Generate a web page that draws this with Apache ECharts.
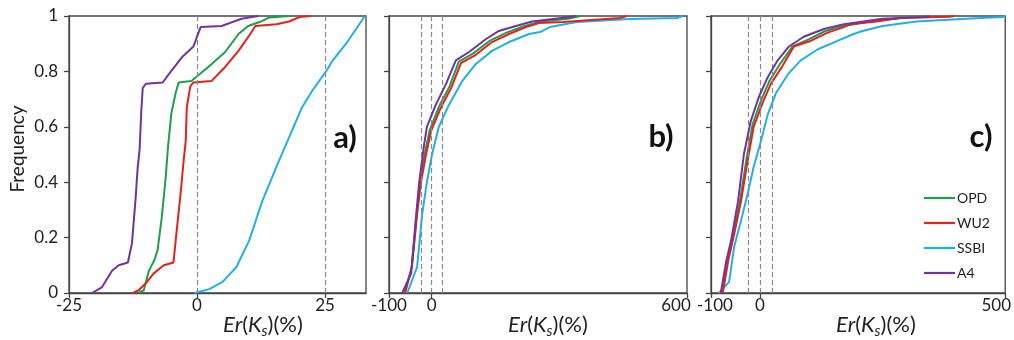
<!DOCTYPE html>
<html><head><meta charset="utf-8">
<script src="https://cdn.jsdelivr.net/npm/echarts@6/dist/echarts.min.js"></script>
<style>html,body{margin:0;padding:0;background:#fff}#c{width:1014px;height:340px}</style>
</head><body><div id="c"></div>
<script>
// ---------- data ----------
const seriesNames = ['OPD', 'WU2', 'SSBI', 'A4'];
const panelLabels = ['a)', 'b)', 'c)'];
const xTicksA = [-25, 0, 25];
const xTicksB = [-100, 0, 600];
const xTicksC = [-100, 0, 500];
const dashA = [0, 25];
const dashB = [-25, 0, 25];
const dashC = [-25, 0, 25];

// panel a
const a_OPD = [[-11.5,0],[-10.4,0.01],[-9.4,0.08],[-8.3,0.12],[-7.7,0.155],[-6.9,0.27],[-6.1,0.42],[-5.7,0.52],[-5.0,0.65],[-4.2,0.72],[-3.6,0.76],[-1.1,0.765],[2.2,0.816],[5.5,0.87],[8.1,0.935],[10,0.964],[12.5,0.98],[14.1,0.995],[18,1]];
const a_WU2 = [[-12.5,0],[-11.4,0.01],[-10.0,0.035],[-8.5,0.07],[-6.5,0.10],[-4.6,0.11],[-4.0,0.22],[-3.2,0.36],[-2.6,0.48],[-2.2,0.55],[-2.0,0.67],[-1.3,0.747],[-0.7,0.76],[2.8,0.765],[5.5,0.816],[8.1,0.874],[10.4,0.935],[11.4,0.964],[15.5,0.97],[18,0.98],[20,0.996],[22.3,1]];
const a_SSBI = [[-0.5,0],[2.4,0.014],[5.0,0.04],[7.7,0.094],[10.2,0.19],[12.7,0.33],[15.5,0.455],[18.0,0.563],[20.5,0.67],[22.5,0.73],[25.2,0.80],[26.4,0.837],[29.1,0.90],[32.8,1]];
const a_A4 = [[-20.5,0],[-18.6,0.02],[-16.6,0.08],[-15.3,0.10],[-13.5,0.11],[-12.7,0.18],[-12.0,0.34],[-11.6,0.45],[-11.2,0.52],[-10.9,0.65],[-10.6,0.74],[-10.0,0.755],[-6.7,0.76],[-5.5,0.79],[-3.0,0.85],[-0.7,0.89],[-0.1,0.92],[0.7,0.96],[4.8,0.964],[8.7,0.99],[11,0.997],[12,1]];

// panel b
const b_OPD = [[-64,0],[-47,0.09],[-35,0.285],[-27,0.40],[-15,0.51],[-4,0.59],[18,0.675],[42,0.745],[64,0.835],[98,0.865],[136,0.91],[176,0.94],[215,0.962],[250,0.978],[320,0.99],[350,1]];
const b_WU2 = [[-62,0],[-46,0.097],[-34,0.285],[-25,0.40],[-13,0.50],[-1,0.585],[22,0.67],[46,0.74],[69,0.83],[104,0.86],[142,0.906],[182,0.935],[222,0.96],[252,0.975],[309,0.978],[443,0.993],[459,1]];
const b_SSBI = [[-57,0],[-34,0.094],[-22,0.285],[-11,0.40],[1,0.50],[17,0.60],[41,0.68],[72,0.765],[104,0.827],[142,0.874],[182,0.906],[229,0.935],[255,0.942],[278,0.96],[341,0.978],[466,0.989],[577,0.993],[590,1]];
const b_A4 = [[-69,0],[-48,0.07],[-36,0.285],[-29,0.40],[-18,0.53],[-11,0.60],[10,0.68],[34,0.755],[57,0.84],[88,0.87],[128,0.917],[158,0.946],[198,0.964],[236,0.98],[325,0.996],[340,1]];

// panel c
const c_OPD = [[-78,0],[-66,0.12],[-55,0.21],[-41,0.33],[-27,0.49],[-15,0.61],[3,0.70],[19,0.765],[42,0.83],[66,0.89],[98,0.915],[132,0.945],[165,0.962],[230,0.982],[300,0.995],[345,1]];
const c_WU2 = [[-76,0],[-65,0.115],[-53,0.21],[-39,0.33],[-25,0.48],[-13,0.60],[6,0.69],[22,0.755],[46,0.82],[69,0.89],[103,0.91],[138,0.94],[171,0.96],[183,0.97],[238,0.98],[284,0.993],[386,0.997],[396,1]];
const c_SSBI = [[-84,0],[-63,0.04],[-53,0.165],[-39,0.26],[-25,0.36],[-13,0.455],[2,0.55],[16,0.646],[32,0.72],[57,0.79],[83,0.84],[118,0.88],[158,0.91],[191,0.935],[209,0.946],[250,0.964],[319,0.98],[421,0.99],[494,0.996],[500,1]];
const c_A4 = [[-80,0],[-69,0.115],[-59,0.19],[-45,0.33],[-33,0.50],[-19,0.62],[-2,0.71],[16,0.78],[36,0.84],[59,0.89],[89,0.925],[130,0.953],[171,0.97],[250,0.99],[339,0.996],[345,1]];

// ---------- styling / layout ----------
const colors = ['#1f9e4b', '#e3221b', '#20b0e6', '#7332a1'];
const FONT = 'Lato, "Open Sans", sans-serif';
const axisColor = '#454545';
const grids = [
  {left: 69, top: 16, width: 297, height: 277},
  {left: 389, top: 16, width: 298, height: 277},
  {left: 711, top: 16, width: 295, height: 277}
];
const xRanges = [[-25, 33, 25], [-100, 600, 100], [-100, 500, 100]];
const xTicks = [xTicksA, xTicksB, xTicksC];
const dashes = [dashA, dashB, dashC];
// horizontal nudges (px) of end labels so neighbours don't collide
const labelNudge = [{}, {600: -11}, {'-100': 4, 500: -9}];
const panelData = [
  [a_OPD, a_WU2, a_SSBI, a_A4],
  [b_OPD, b_WU2, b_SSBI, b_A4],
  [c_OPD, c_WU2, c_SSBI, c_A4]
];

function labelRich(i) {
  const r = {};
  Object.keys(labelNudge[i]).forEach((k, j) => {
    const d = labelNudge[i][k];
    r['n' + j] = {fontSize: 17, color: '#222', fontFamily: FONT,
      padding: d < 0 ? [0, -2 * d, 0, 0] : [0, 0, 0, 2 * d]};
  });
  return r;
}
function labelFmt(i) {
  const keys = Object.keys(labelNudge[i]);
  return v => {
    const j = keys.indexOf(String(v));
    return j >= 0 ? '{n' + j + '|' + v + '}' : String(v);
  };
}

const option = {
  animation: false,
  color: colors,
  textStyle: {fontFamily: FONT},
  grid: grids.map(g => Object.assign({show: true, borderColor: axisColor, borderWidth: 1.3, backgroundColor: 'transparent'}, g)),
  xAxis: grids.map((g, i) => ({
    type: 'value', gridIndex: i,
    min: xRanges[i][0], max: xRanges[i][1], interval: xRanges[i][2],
    splitLine: {show: false},
    axisLine: {show: true, onZero: false, lineStyle: {color: axisColor, width: 1.3}},
    axisTick: {show: true, length: 5, inside: false, customValues: xTicks[i], lineStyle: {color: axisColor, width: 1.3}},
    axisLabel: {show: true, margin: 4, fontSize: 17, color: '#222', fontFamily: FONT,
      customValues: xTicks[i], formatter: labelFmt(i), rich: labelRich(i)}
  })),
  yAxis: grids.map((g, i) => ({
    type: 'value', gridIndex: i,
    min: 0, max: 1, interval: 0.2,
    splitLine: {show: false},
    axisLine: {show: true, onZero: false, lineStyle: {color: axisColor, width: 1.3}},
    axisTick: {show: true, length: 5, inside: false, lineStyle: {color: axisColor, width: 1.3}},
    axisLabel: {show: i === 0, margin: 11, fontSize: 17, color: '#222', fontFamily: FONT}
  })),
  legend: {
    orient: 'vertical', left: 919, top: 186,
    data: seriesNames,
    icon: 'rect', itemWidth: 31, itemHeight: 2.2, itemGap: 11,
    textStyle: {fontSize: 14, lineHeight: 14, color: '#222', fontFamily: FONT, padding: [0, 0, 0, -3]}
  },
  series: [],
  graphic: []
};

panelData.forEach((arrs, p) => {
  arrs.forEach((d, k) => {
    const s = {
      type: 'line', name: seriesNames[k], xAxisIndex: p, yAxisIndex: p,
      data: d, showSymbol: false, symbol: 'none',
      lineStyle: {width: 2, color: colors[k]},
      itemStyle: {color: colors[k]},
      z: 3 + (k === 3 ? 2 : k === 1 ? 1 : 0)
    };
    if (k === 0) {
      s.markLine = {
        silent: true, symbol: 'none', label: {show: false},
        lineStyle: {color: '#8a8a8a', type: [5, 3], width: 1.2},
        data: dashes[p].map(v => ({xAxis: v}))
      };
    }
    option.series.push(s);
  });
});

// axis titles and panel labels
const titleX = [263, 548, 876];
const richName = {
  i: {fontSize: 22, fontStyle: 'italic', fontFamily: FONT, fill: '#222'},
  n: {fontSize: 22, fontFamily: FONT, fill: '#222'},
  s: {fontSize: 15, fontStyle: 'italic', fontFamily: FONT, fill: '#222', padding: [12, 0, 0, 0]}
};
titleX.forEach(x => {
  option.graphic.push({
    type: 'text', x: x, y: 325,
    style: {text: '{i|Er}{n|(}{i|K}{s|s}{n|)(%)}', rich: richName, align: 'center', verticalAlign: 'middle', fill: '#222', fontSize: 22, fontFamily: FONT}
  });
});
const labelPos = [[345, 138], [661, 137], [981, 137]];
panelLabels.forEach((t, i) => {
  option.graphic.push({
    type: 'text', x: labelPos[i][0], y: labelPos[i][1],
    style: {text: t, fontSize: 31, fontWeight: 'bold', fontFamily: FONT, fill: '#111', align: 'center', verticalAlign: 'middle'}
  });
});
option.graphic.push({
  type: 'text', x: 18, y: 149, rotation: Math.PI / 2,
  style: {text: 'Frequency', fontSize: 19, fontFamily: FONT, fill: '#222', align: 'center', verticalAlign: 'middle'}
});

const chart = echarts.init(document.getElementById('c'), null, {renderer: 'canvas'});
chart.setOption(option);
</script>
</body></html>
